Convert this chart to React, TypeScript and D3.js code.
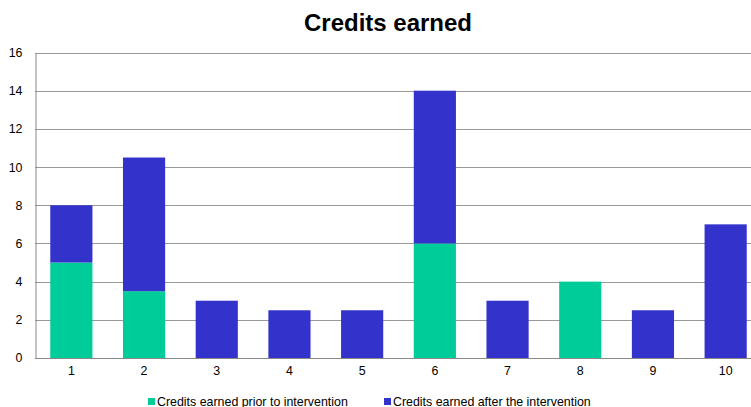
import React, { useEffect, useRef } from "react";
import * as d3 from "d3";

const categories = ["1", "2", "3", "4", "5", "6", "7", "8", "9", "10"];
const priorValues = [5, 3.5, 0, 0, 0, 6, 0, 4, 0, 0];
const afterValues = [3, 7, 3, 2.5, 2.5, 8, 3, 0, 2.5, 7];
const yTicks = [0, 2, 4, 6, 8, 10, 12, 14, 16];
const seriesNames = [
  "Credits earned prior to intervention",
  "Credits earned after the intervention",
];
const seriesColors = ["#00CC99", "#3333CC"];

const App: React.FC = () => {
  const svgRef = useRef<SVGSVGElement>(null);

  useEffect(() => {
    if (!svgRef.current) return;
    document.body.style.margin = "0";
    document.body.style.overflow = "hidden";

    const width = 751;
    const height = 407;
    const margin = { top: 52.5, left: 35, bottom: 358 };
    const plotRight = 762;

    const svg = d3.select(svgRef.current);
    svg.selectAll("*").remove();
    svg.attr("width", width).attr("height", height);

    const font = "Arial, 'Liberation Sans', sans-serif";

    const x = d3
      .scaleBand()
      .domain(categories)
      .range([margin.left, plotRight]);

    const y = d3.scaleLinear().domain([0, 16]).range([margin.bottom, margin.top]);

    // GRID
    svg
      .append("g")
      .selectAll("line")
      .data(yTicks.slice(1))
      .enter()
      .append("line")
      .attr("x1", margin.left)
      .attr("x2", width)
      .attr("y1", d => Math.round(y(d)) + 0.5)
      .attr("y2", d => Math.round(y(d)) + 0.5)
      .attr("stroke", "#999")
      .attr("stroke-width", 1);

    // STACKED BARS
    const barW = x.bandwidth() * 0.58;
    const rows = categories.map((c, i) => ({
      cat: c,
      prior: priorValues[i],
      after: afterValues[i],
    }));
    const stack = d3.stack<any>().keys(["prior", "after"])(rows);

    stack.forEach((layer, li) => {
      svg
        .append("g")
        .selectAll("rect")
        .data(layer.filter(d => d[1] - d[0] > 0))
        .enter()
        .append("rect")
        .attr("x", d => x(d.data.cat)! + (x.bandwidth() - barW) / 2)
        .attr("y", d => y(d[1]))
        .attr("width", barW)
        .attr("height", d => y(d[0]) - y(d[1]))
        .attr("fill", seriesColors[li]);
    });

    // AXES
    const yAxis = svg
      .append("g")
      .attr("transform", `translate(${margin.left + 0.5},0)`)
      .call(d3.axisLeft(y).tickValues(yTicks).tickSize(0).tickPadding(13));
    yAxis.attr("font-size", null).attr("font-family", null);
    yAxis.select(".domain").attr("stroke", "#888");
    yAxis
      .selectAll("text")
      .style("font-family", font)
      .style("font-size", "12.4px")
      .attr("fill", "#000");

    const xAxis = svg
      .append("g")
      .attr("transform", `translate(0,${Math.round(margin.bottom) + 0.5})`)
      .call(d3.axisBottom(x).tickSize(0).tickPadding(8));
    xAxis.attr("font-size", null).attr("font-family", null);
    xAxis.select(".domain").remove();
    xAxis
      .append("line")
      .attr("x1", margin.left)
      .attr("x2", width)
      .attr("stroke", "#888");
    xAxis
      .selectAll("text")
      .style("font-family", font)
      .style("font-size", "12.4px")
      .attr("fill", "#000");

    // TITLE
    svg
      .append("text")
      .attr("x", 388)
      .attr("y", 31)
      .attr("text-anchor", "middle")
      .style("font-family", font)
      .style("font-size", "24px")
      .style("font-weight", "bold")
      .text("Credits earned");

    // LEGEND
    const legendX = [148, 384];
    const legend = svg
      .append("g")
      .selectAll("g")
      .data(seriesNames)
      .enter()
      .append("g")
      .attr("transform", (d, i) => `translate(${legendX[i]},398)`);
    legend
      .append("rect")
      .attr("width", 7)
      .attr("height", 7)
      .attr("fill", (d, i) => seriesColors[i]);
    legend
      .append("text")
      .attr("x", 9)
      .attr("y", 7.5)
      .style("font-family", font)
      .style("font-size", "12.4px")
      .text(d => d);
  }, []);

  return <svg ref={svgRef} style={{ display: "block" }}></svg>;
};

export default App;
